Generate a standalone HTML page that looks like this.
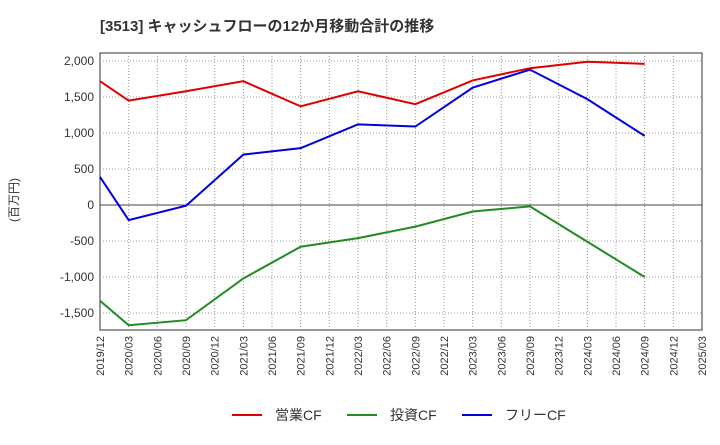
<!DOCTYPE html>
<html><head><meta charset="utf-8"><style>
body{margin:0;background:#fff;font-family:"Liberation Sans","Noto Sans CJK JP",sans-serif;}
</style></head><body>
<svg width="720" height="440" xmlns="http://www.w3.org/2000/svg" id="c" font-family="Liberation Sans, Noto Sans CJK JP, sans-serif">
<text x="100" y="31" font-size="15" font-weight="bold" fill="#333">[3513]  キャッシュフローの12か月移動合計の推移</text>
<text transform="translate(18,200) rotate(-90)" font-size="12" fill="#333" text-anchor="middle">(百万円)</text>
<g id="grid"></g><g id="series"></g><g id="axes"></g><g id="legend"></g>
</svg>
<script>
const xLabels=["2019/12","2020/03","2020/06","2020/09","2020/12","2021/03","2021/06","2021/09","2021/12","2022/03","2022/06","2022/09","2022/12","2023/03","2023/06","2023/09","2023/12","2024/03","2024/06","2024/09","2024/12","2025/03"];
const yTicks=[2000,1500,1000,500,0,-500,-1000,-1500];
const dataIdx=[0,1,3,5,7,9,11,13,15,17,19];
const opCF=[1720,1450,1580,1720,1370,1580,1400,1730,1900,1990,1960];
const invCF=[-1330,-1670,-1600,-1020,-580,-460,-300,-90,-20,-510,-1000];
const freeCF=[390,-210,-10,700,790,1120,1090,1630,1880,1470,960];
const names=["営業CF","投資CF","フリーCF"];
const colors=["#e00000","#228b22","#0000e0"];
const L=100,R=702,T=53,B=330;
const xs=i=>L+i*(R-L)/21;
const ys=v=>205-v*36/500;
const NS="http://www.w3.org/2000/svg";
function mk(p,t,a){const e=document.createElementNS(NS,t);for(const k in a)e.setAttribute(k,a[k]);p.appendChild(e);return e;}
const g=document.getElementById('grid'),s=document.getElementById('series'),ax=document.getElementById('axes'),lg=document.getElementById('legend');
const bg=mk(g,'rect',{x:L,y:T,width:R-L,height:B-T,fill:'#fff',stroke:'#333'});

yTicks.forEach(v=>{const l=mk(g,'line',{x1:L,x2:R,y1:ys(v),y2:ys(v),stroke:v===0?'#444':'#999','stroke-dasharray':v===0?'':'1,2'});

const t=mk(ax,'text',{x:L-6,y:ys(v)+4,'font-size':12,'text-anchor':'end',fill:'#333'});t.textContent=v.toLocaleString('en-US');
});
xLabels.forEach((lab,i)=>{if(i>0&&i<21){const l=mk(g,'line',{x1:xs(i),x2:xs(i),y1:T,y2:B,stroke:'#999','stroke-dasharray':'1,2'});
}
const t=mk(ax,'text',{transform:`translate(${xs(i)+4},${B+6}) rotate(-90)`,'font-size':11,'text-anchor':'end',fill:'#333'});t.textContent=lab;
});
[opCF,invCF,freeCF].forEach((d,k)=>{const p=mk(s,'polyline',{points:d.map((v,j)=>xs(dataIdx[j])+','+ys(v)).join(' '),fill:'none',stroke:colors[k],'stroke-width':2});

const lx=232+k*115;const l=mk(lg,'line',{x1:lx,x2:lx+30,y1:415,y2:415,stroke:colors[k],'stroke-width':2});

const t=mk(lg,'text',{x:lx+43,y:420,'font-size':14,fill:'#333'});t.textContent=names[k];
});
</script>
</body></html>
